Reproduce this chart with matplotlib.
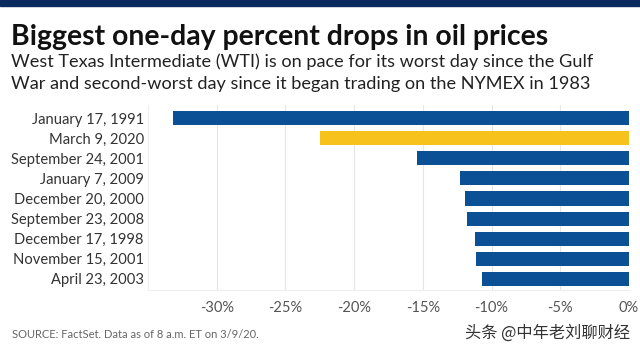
import matplotlib.pyplot as plt
from matplotlib.patches import Rectangle

# === Dati ===
dates = ["January 17, 1991", "March 9, 2020", "September 24, 2001", "January 7, 2009",
         "December 20, 2000", "September 23, 2008", "December 17, 1998",
         "November 15, 2001", "April 23, 2003"]
drops = [-33.2, -22.5, -15.4, -12.3, -11.9, -11.8, -11.2, -11.1, -10.7]
highlight = "March 9, 2020"
xticks = [-30, -25, -20, -15, -10, -5, 0]

blue = "#0b4f94"
yellow = "#f8c21c"

plt.rcParams['font.family'] = ['Lato', 'DejaVu Sans']

fig = plt.figure(figsize=(6.4, 3.6), dpi=100)
fig.patch.set_facecolor("white")

# banda blu in alto
fig.add_artist(Rectangle((0, 1 - 6 / 360), 1, 6 / 360, transform=fig.transFigure,
                         color="#0b2a5e", zorder=5))

fig.text(11 / 640, 1 - 37 / 360, "Biggest one-day percent drops in oil prices",
         fontsize=20.4, fontweight="bold", color="#111111", va="center")
fig.text(11 / 640, 1 - 62 / 360,
         "West Texas Intermediate (WTI) is on pace for its worst day since the Gulf",
         fontsize=13.1, color="#222222", va="center")
fig.text(11 / 640, 1 - 84 / 360,
         "War and second-worst day since it began trading on the NYMEX in 1983",
         fontsize=13.1, color="#222222", va="center")

ax = fig.add_axes([148 / 640, 70 / 360, 481 / 640, 185 / 360])
colors = [yellow if d == highlight else blue for d in dates]
ax.barh(range(len(dates)), drops, height=0.7, color=colors, zorder=3)

ax.set_xlim(-35, 0)
ax.set_ylim(8.55, -0.65)
ax.set_yticks(range(len(dates)))
ax.set_yticklabels(dates, fontsize=10.6, color="#333333")
ax.set_xticks(xticks)
ax.set_xticklabels([f"{t}%" for t in xticks], fontsize=10.5, color="#555555")
ax.tick_params(length=0)
ax.tick_params(axis="y", pad=3)
ax.tick_params(axis="x", pad=8)
ax.grid(axis="x", color="#e6e6e6", linewidth=0.8, zorder=0)
for s in ax.spines.values():
    s.set_visible(False)
ax.spines["left"].set_visible(True)
ax.spines["left"].set_color("#eeeeee")
ax.spines["bottom"].set_visible(True)
ax.spines["bottom"].set_color("#eeeeee")

fig.text(12 / 640, 1 - 335 / 360, "SOURCE: FactSet. Data as of 8 a.m. ET on 3/9/20.",
         fontsize=8, color="#666666", va="center")
fig.text(630 / 640, 1 - 333 / 360, "头条 @中年老刘聊财经",
         fontsize=11.7, color="#333333", va="center", ha="right",
         family=["Noto Sans CJK SC", "DejaVu Sans"])

fig.savefig("out.png", dpi=100)
